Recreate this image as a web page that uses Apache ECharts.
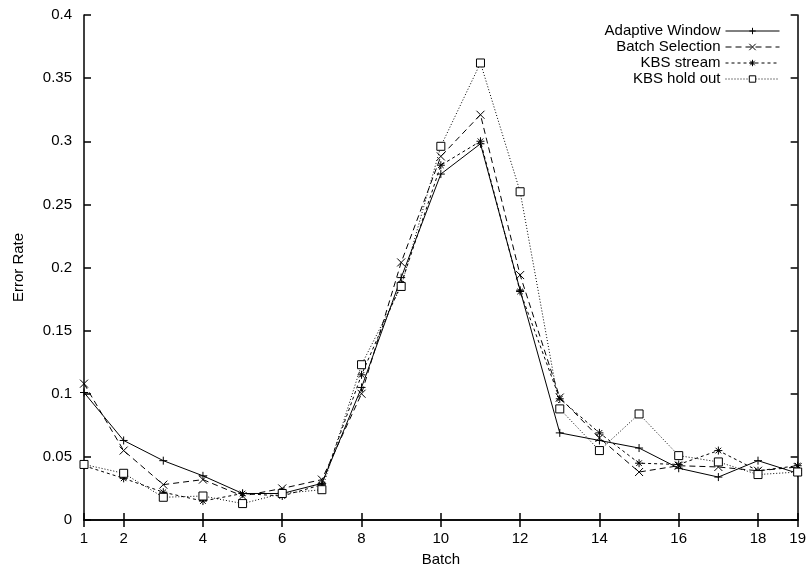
<!DOCTYPE html>
<html>
<head>
<meta charset="utf-8">
<script src="https://cdn.jsdelivr.net/npm/echarts@6/dist/echarts.min.js"></script>
<style>
  html, body { margin: 0; padding: 0; background: #fff; }
  #chart { width: 809px; height: 572px; }
</style>
</head>
<body>
<div id="chart"></div>
<script>
// batch numbers and error rates per method
const batches = [1, 2, 3, 4, 5, 6, 7, 8, 9, 10, 11, 12, 13, 14, 15, 16, 17, 18, 19];
const adaptiveWindow = [0.101, 0.063, 0.047, 0.035, 0.021, 0.021, 0.029, 0.105, 0.192, 0.274, 0.298, 0.182, 0.069, 0.063, 0.057, 0.041, 0.034, 0.047, 0.037];
const batchSelection = [0.108, 0.055, 0.028, 0.032, 0.019, 0.025, 0.032, 0.100, 0.204, 0.288, 0.321, 0.194, 0.097, 0.065, 0.038, 0.043, 0.042, 0.039, 0.042];
const kbsStream = [0.043, 0.033, 0.022, 0.015, 0.021, 0.019, 0.028, 0.115, 0.187, 0.281, 0.300, 0.181, 0.096, 0.069, 0.045, 0.044, 0.055, 0.039, 0.043];
const kbsHoldOut = [0.044, 0.037, 0.018, 0.019, 0.013, 0.021, 0.024, 0.123, 0.185, 0.296, 0.362, 0.260, 0.088, 0.055, 0.084, 0.051, 0.046, 0.036, 0.038];
const xTicks = [1, 2, 4, 6, 8, 10, 12, 14, 16, 18, 19];

const font = 'Liberation Sans, Arial, sans-serif';
const plus = 'path://M0,5L10,5M5,0L5,10';
const cross = 'path://M0,0L10,10M10,0L0,10';
const star = 'path://M0,5L10,5M5,0L5,10M1.5,1.5L8.5,8.5M8.5,1.5L1.5,8.5';

function pairs(arr) {
  return batches.map((b, i) => [b, arr[i]]);
}

function line(name, arr, symbol, dash, fill) {
  return {
    name: name,
    type: 'line',
    data: pairs(arr),
    symbol: symbol,
    symbolSize: 8,
    showAllSymbol: true,
    animation: false,
    lineStyle: { color: '#000', width: 1, type: dash },
    itemStyle: { color: fill, borderColor: '#000', borderWidth: 1 }
  };
}

const chart = echarts.init(document.getElementById('chart'), null, { renderer: 'canvas' });

chart.setOption({
  animation: false,
  textStyle: { fontFamily: font },
  grid: { left: 84, right: 10, top: 15, bottom: 48 },
  legend: {
    orient: 'vertical',
    right: 29,
    top: 23,
    padding: 0,
    align: 'right',
    itemWidth: 54,
    itemHeight: 8,
    itemGap: 0,
    lineStyle: { width: 1 },
    itemStyle: { borderWidth: 1 },
    textStyle: { fontFamily: font, fontSize: 15, lineHeight: 16, color: '#000' },
    data: ['Adaptive Window', 'Batch Selection', 'KBS stream', 'KBS hold out']
  },
  xAxis: [{
    type: 'value',
    min: 1,
    max: 19,
    name: 'Batch',
    nameLocation: 'middle',
    nameGap: 32,
    nameTextStyle: { fontSize: 15, color: '#000' },
    axisLine: { lineStyle: { color: '#000', width: 1.5 } },
    axisTick: { inside: true, length: 7, lineStyle: { color: '#000', width: 1.5 }, customValues: xTicks },
    axisLabel: { fontSize: 15, color: '#000', margin: 11, customValues: xTicks },
    splitLine: { show: false }
  }, {
    type: 'value',
    position: 'top',
    min: 1,
    max: 19,
    axisLine: { show: true, lineStyle: { color: '#000', width: 1.5 } },
    axisTick: { inside: true, length: 7, lineStyle: { color: '#000', width: 1.5 }, customValues: xTicks },
    axisLabel: { show: false },
    splitLine: { show: false }
  }],
  yAxis: [{
    type: 'value',
    min: 0,
    max: 0.4,
    interval: 0.05,
    name: 'Error Rate',
    nameLocation: 'middle',
    nameGap: 58,
    nameTextStyle: { fontSize: 15, color: '#000' },
    axisLine: { show: true, lineStyle: { color: '#000', width: 1.5 } },
    axisTick: { inside: true, length: 7, lineStyle: { color: '#000', width: 1.5 } },
    axisLabel: { fontSize: 15, color: '#000', margin: 12, formatter: v => String(+v.toFixed(2)) },
    splitLine: { show: false }
  }, {
    type: 'value',
    position: 'right',
    min: 0,
    max: 0.4,
    interval: 0.05,
    axisLine: { show: true, lineStyle: { color: '#000', width: 1.5 } },
    axisTick: { show: true, inside: true, length: 7, lineStyle: { color: '#000', width: 1.5 } },
    axisLabel: { show: false },
    splitLine: { show: false }
  }],
  series: [
    line('Adaptive Window', adaptiveWindow, plus, 'solid', '#000'),
    line('Batch Selection', batchSelection, cross, [6, 4], '#000'),
    line('KBS stream', kbsStream, star, [3, 3], '#000'),
    line('KBS hold out', kbsHoldOut, 'rect', [1, 2], '#fff')
  ]
});
</script>
</body>
</html>
